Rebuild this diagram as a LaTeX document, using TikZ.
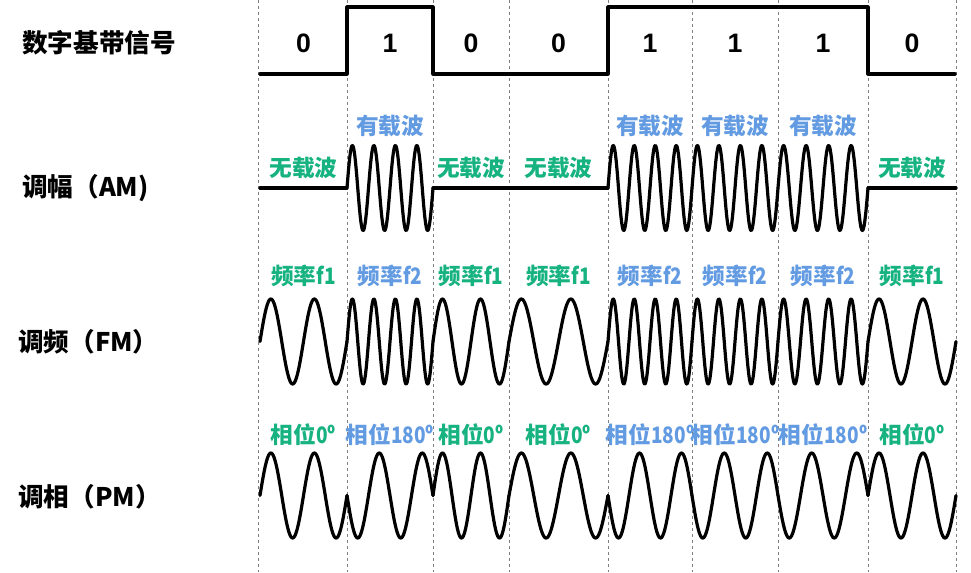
\documentclass[tikz,border=0pt]{standalone}
\usepackage{fontspec}
\setmainfont{Liberation Sans}
\newfontfamily\cjk{Noto Sans CJK SC}
\newfontfamily\latn{Noto Sans CJK SC}[FakeStretch=0.84]
\newcommand{\lt}[1]{{\latn\bfseries #1}}
\definecolor{lg}{RGB}{22,178,128}
\definecolor{lb}{RGB}{98,155,226}
\begin{document}
\begin{tikzpicture}[x=0.75pt,y=-0.75pt,
  sig/.style={line width=2.4pt, line join=round, line cap=round, black},
  gridline/.style={gray, line width=0.5pt, dash pattern=on 2.5pt off 2pt},
  side/.style={font=\cjk\bfseries\fontsize{19.2}{22}\selectfont, anchor=west, inner sep=0pt},
  bitlbl/.style={font=\bfseries\fontsize{20}{22}\selectfont, inner sep=0pt},
  labz/.style={font=\cjk\bfseries\fontsize{17}{20}\selectfont, text=lg, inner sep=0pt},
  labo/.style={font=\cjk\bfseries\fontsize{17}{20}\selectfont, text=lb, inner sep=0pt}]
\useasboundingbox (0,0) rectangle (971,572);
\fill[white] (0,0) rectangle (971,572);
% grid lines
\foreach \gx [count=\i] in {258,347,433,509,608,692,778,868,956}
  \draw[gridline] (\gx,0) coordinate (gt\i) -- (\gx,572) coordinate (gb\i);
% side labels
\node[side] (tdig) at (22,43) {数字基带信号};
\node[side] (tam) at (22,188) {调幅（AM)};
\node[side] (tfm) at (18,342) {调频（FM）};
\node[side] (tpm) at (18,497) {调相（PM）};
% digital signal
\draw[sig] (260,74) -- (347,74) -- (347,7) -- (433,7) -- (433,74) -- (608,74)
  -- (608,7) -- (868,7) -- (868,74) -- (955,74);
% bits
\foreach \a/\b/\v [count=\i] in {260/347/0,347/433/1,433/509/0,509/608/0,608/692/1,692/778/1,778/868/1,868/956/0}{
  \pgfmathsetmacro{\c}{(\a+\b)/2}
  \pgfmathsetmacro{\kt}{720/(\b-\a)}
  \pgfmathsetmacro{\kf}{1440/(\b-\a)}
  \node[bitlbl] (bit\i) at (\c,43) {\v};
  \ifnum\v=0
    \draw[sig] (\a,188) -- (\b,188);
    \node[labz] (am\i) at (\c,168) {无载波};
    \draw[sig] plot[domain=\a:\b, samples=120] (\x,{341.5-42.5*sin(\kt*(\x-\a))});
    \node[labz] (fm\i) at (\c,276) {频率\lt{f1}};
    \draw[sig] plot[domain=\a:\b, samples=120] (\x,{495.5-42.5*sin(\kt*(\x-\a))});
    \node[labz] (pm\i) at (\c,435) {相位\lt{0º}};
  \else
    \draw[sig] plot[domain=\a:\b, samples=200] (\x,{188-42.5*sin(\kf*(\x-\a))});
    \node[labo] (am\i) at (\c,126) {有载波};
    \draw[sig] plot[domain=\a:\b, samples=200] (\x,{341.5-42.5*sin(\kf*(\x-\a))});
    \node[labo] (fm\i) at (\c,276) {频率\lt{f2}};
    \draw[sig] plot[domain=\a:\b, samples=120] (\x,{495.5+42.5*sin(\kt*(\x-\a))});
    \node[labo] (pm\i) at (\c,435) {相位\lt{180º}};
  \fi
}
\end{tikzpicture}
\end{document}
